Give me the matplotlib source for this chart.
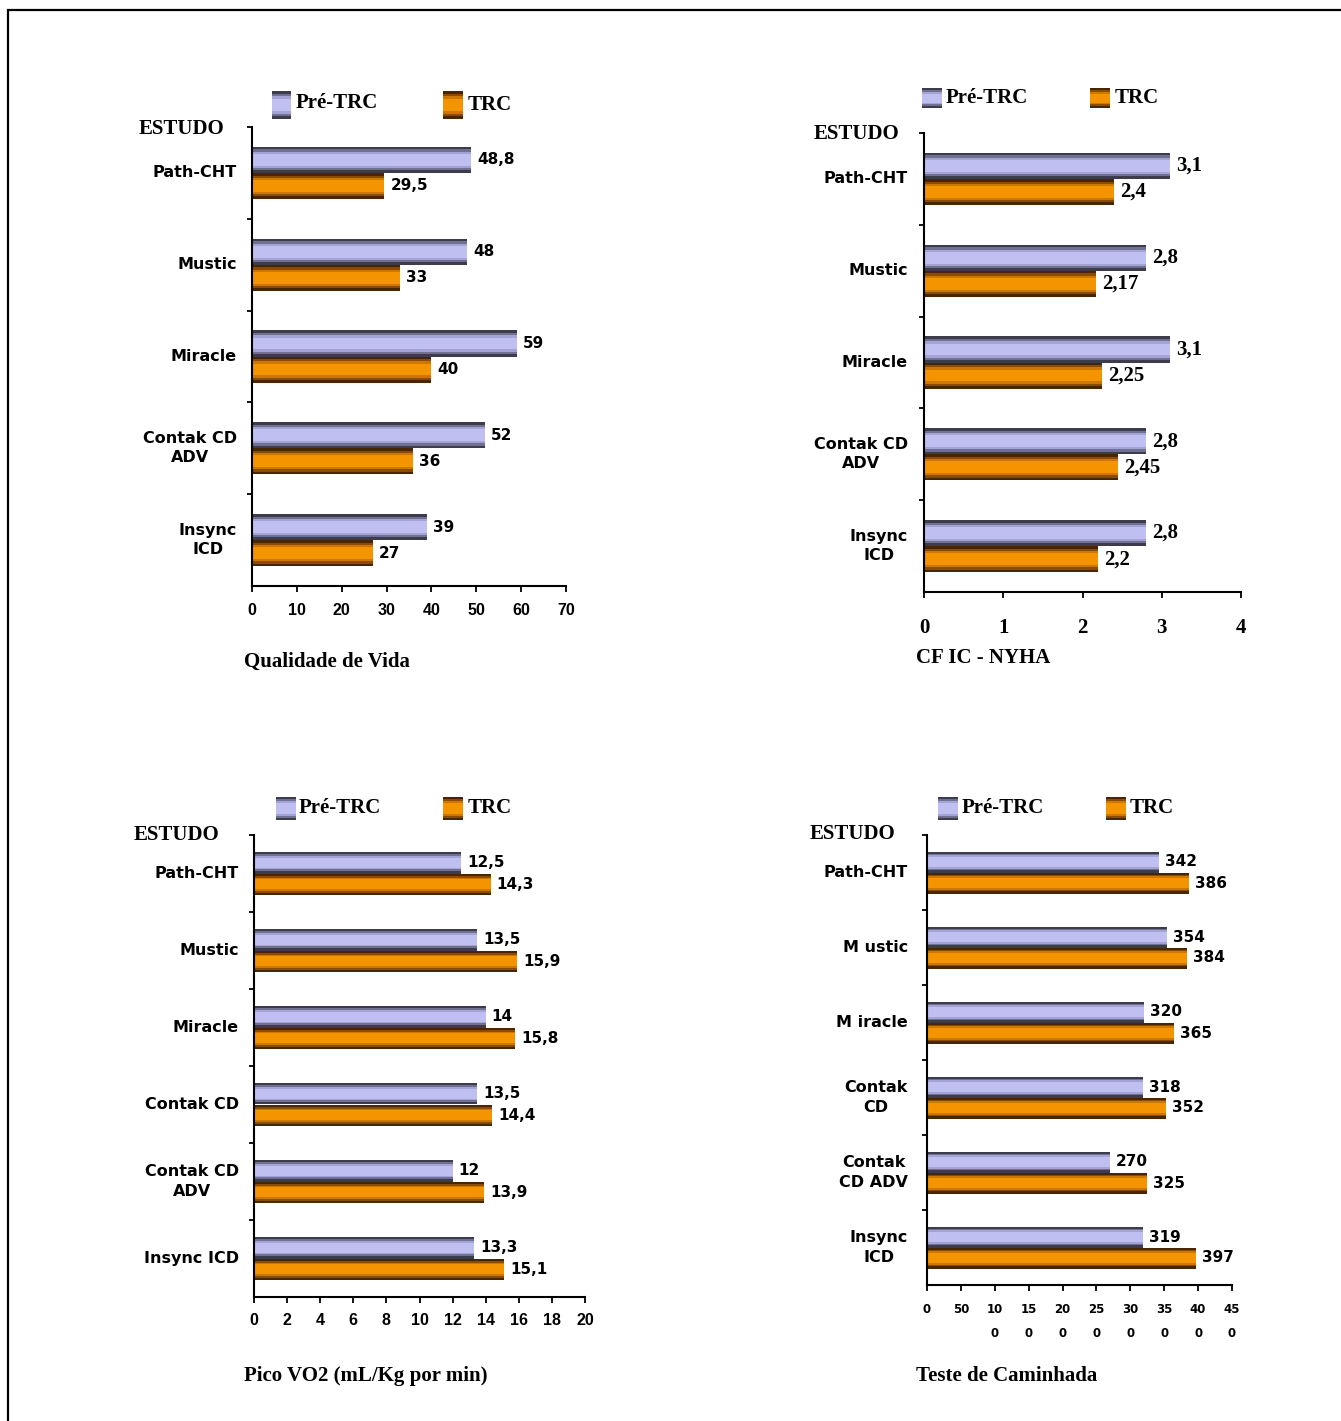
import matplotlib
matplotlib.use("Agg")
import matplotlib.pyplot as plt
from matplotlib.patches import Rectangle

W, H = 1341, 1421
DPI = 100

# ---------------- data ----------------
qv_studies = ["Path-CHT", "Mustic", "Miracle", "Contak CD\nADV", "Insync\nICD"]
qv_pre = [48.8, 48, 59, 52, 39]
qv_trc = [29.5, 33, 40, 36, 27]
qv_ticks = [0, 10, 20, 30, 40, 50, 60, 70]

nyha_studies = ["Path-CHT", "Mustic", "Miracle", "Contak CD\nADV", "Insync\nICD"]
nyha_pre = [3.1, 2.8, 3.1, 2.8, 2.8]
nyha_trc = [2.4, 2.17, 2.25, 2.45, 2.2]
nyha_ticks = [0, 1, 2, 3, 4]

vo2_studies = ["Path-CHT", "Mustic", "Miracle", "Contak CD", "Contak CD\nADV", "Insync ICD"]
vo2_pre = [12.5, 13.5, 14, 13.5, 12, 13.3]
vo2_trc = [14.3, 15.9, 15.8, 14.4, 13.9, 15.1]
vo2_ticks = [0, 2, 4, 6, 8, 10, 12, 14, 16, 18, 20]

walk_studies = ["Path-CHT", "M ustic", "M iracle", "Contak\nCD", "Contak\nCD ADV", "Insync\nICD"]
walk_pre = [342, 354, 320, 318, 270, 319]
walk_trc = [386, 384, 365, 352, 325, 397]
walk_ticks = [0, 50, 100, 150, 200, 250, 300, 350, 400, 450]
walk_ticklabels = ["0", "50", "10\n0", "15\n0", "20\n0", "25\n0", "30\n0", "35\n0", "40\n0", "45\n0"]

series_names = ["Pré-TRC", "TRC"]
axis_titles = ["Qualidade de Vida", "CF IC - NYHA", "Pico VO2 (mL/Kg por min)", "Teste de Caminhada"]
group_title = "ESTUDO"

# ---------------- style ----------------
SANS = "Liberation Sans"
WIDE = "DejaVu Sans"
SERIF = "Liberation Serif"
PRE_LAYERS = [(1.0, "#3c3c4c"), (0.8, "#707090"), (0.62, "#a4a4d4"), (0.45, "#bfbff2")]
TRC_LAYERS = [(1.0, "#4a2600"), (0.8, "#8c4c00"), (0.62, "#cc7800"), (0.45, "#f39400")]

fig = plt.figure(figsize=(W / DPI, H / DPI), dpi=DPI)
fig.patch.set_facecolor("white")

# outer frame
fig.add_artist(Rectangle((8 / W, -0.01), 1.02, 1 - 10 / H + 0.01, transform=fig.transFigure,
                         fill=False, edgecolor="black", linewidth=1.6))


def fmt(v):
    if float(v) == int(v):
        return str(int(v))
    return ("%g" % v).replace(".", ",")


def legend_patch(x0, y0, x1, y1, layers):
    h = y1 - y0
    cy = (y0 + y1) / 2
    for frac, col in layers:
        hh = h * frac
        fig.add_artist(Rectangle((x0 / W, 1 - (cy + hh / 2) / H), (x1 - x0) / W, hh / H,
                                 transform=fig.transFigure, facecolor=col, edgecolor="none"))


def ftext(x, y, s, **kw):
    fig.text(x / W, 1 - y / H, s, **kw)


def panel(rect, studies, pre, trc, xmax, ticks, ticklabels, tickfont, valfont,
          lab_off, lab_fs, bar_h, tick_pad):
    l, t, r, b = rect
    ax = fig.add_axes([l / W, 1 - b / H, (r - l) / W, (b - t) / H])
    n = len(studies)
    ax.set_xlim(0, xmax)
    ax.set_ylim(n, 0)
    for i in range(n):
        yc = i + 0.5
        for vals, layers, yy in ((pre, PRE_LAYERS, yc - bar_h / 2), (trc, TRC_LAYERS, yc + bar_h / 2)):
            for frac, col in layers:
                ax.barh(yy, vals[i], height=bar_h * frac, color=col, linewidth=0)
        ax.annotate(fmt(pre[i]), xy=(pre[i], yc - bar_h / 2), xytext=(6, 0),
                    textcoords="offset pixels", ha="left", va="center", **valfont)
        ax.annotate(fmt(trc[i]), xy=(trc[i], yc + bar_h / 2), xytext=(6, 0),
                    textcoords="offset pixels", ha="left", va="center", **valfont)
        ax.annotate(studies[i], xy=(0, yc), xycoords=ax.get_yaxis_transform(),
                    xytext=(-lab_off, 0), textcoords="offset pixels", ha="right",
                    va="center", multialignment="center", family=WIDE,
                    fontweight="bold", fontsize=lab_fs, linespacing=1.35)
    ax.set_yticks(list(range(n)))
    ax.set_yticklabels([])
    ax.set_xticks(ticks)
    ax.set_xticklabels(ticklabels, **tickfont)
    ax.tick_params(axis="y", direction="out", length=3.5, width=1.3)
    ax.tick_params(axis="x", direction="out", length=4, width=1.3, pad=tick_pad)
    for s in ("top", "right"):
        ax.spines[s].set_visible(False)
    for s in ("left", "bottom"):
        ax.spines[s].set_linewidth(1.5)
    ax.set_facecolor("none")
    return ax


wide_val = dict(family=WIDE, fontweight="bold", fontsize=11)
serif_val = dict(family=SERIF, fontweight="bold", fontsize=15)
sans_tick = dict(family=SANS, fontweight="bold", fontsize=11.5)
serif_tick = dict(family=SERIF, fontweight="bold", fontsize=15)
small_tick = dict(family=WIDE, fontweight="bold", fontsize=8.5, linespacing=2.1)

panel((252, 127, 566, 586), qv_studies, qv_pre, qv_trc, 70, qv_ticks,
      [str(t) for t in qv_ticks], sans_tick, wide_val, 15, 11.5, 0.285, 8.5)
panel((924, 133, 1241, 592), nyha_studies, nyha_pre, nyha_trc, 4, nyha_ticks,
      [str(t) for t in nyha_ticks], serif_tick, serif_val, 16, 11.5, 0.285, 15)
panel((254, 835, 585, 1297), vo2_studies, vo2_pre, vo2_trc, 20, vo2_ticks,
      [str(t) for t in vo2_ticks], sans_tick, wide_val, 15, 11.5, 0.275, 7.5)
panel((927, 835, 1232, 1285), walk_studies, walk_pre, walk_trc, 450, walk_ticks,
      walk_ticklabels, small_tick, wide_val, 19, 11.5, 0.28, 9)

# legends, group titles, axis titles
legends = [((272, 291, 91, 119), (296, 103), (443, 463, 91, 119), (468, 105)),
           ((922, 942, 88, 108), (946, 98), (1090, 1110, 88, 108), (1115, 98)),
           ((276, 296, 797, 820), (299, 808), (443, 463, 797, 820), (468, 808)),
           ((938, 958, 797, 820), (962, 808), (1106, 1126, 797, 820), (1130, 808))]
for (p1, t1, p2, t2) in legends:
    legend_patch(p1[0], p1[2], p1[1], p1[3], PRE_LAYERS)
    ftext(t1[0], t1[1], series_names[0], family=SERIF, fontweight="bold", fontsize=15,
          ha="left", va="center")
    legend_patch(p2[0], p2[2], p2[1], p2[3], TRC_LAYERS)
    ftext(t2[0], t2[1], series_names[1], family=SERIF, fontweight="bold", fontsize=15,
          ha="left", va="center")

for (x, y) in [(139, 129), (814, 134), (134, 835), (810, 834)]:
    ftext(x, y, group_title, family=SERIF, fontweight="bold", fontsize=15, ha="left", va="center")

for (x, y), s in zip([(244, 662), (916, 658), (244, 1376), (916, 1376)], axis_titles):
    ftext(x, y, s, family=SERIF, fontweight="bold", fontsize=15, ha="left", va="center")

fig.savefig("out.png", dpi=DPI, facecolor="white")
